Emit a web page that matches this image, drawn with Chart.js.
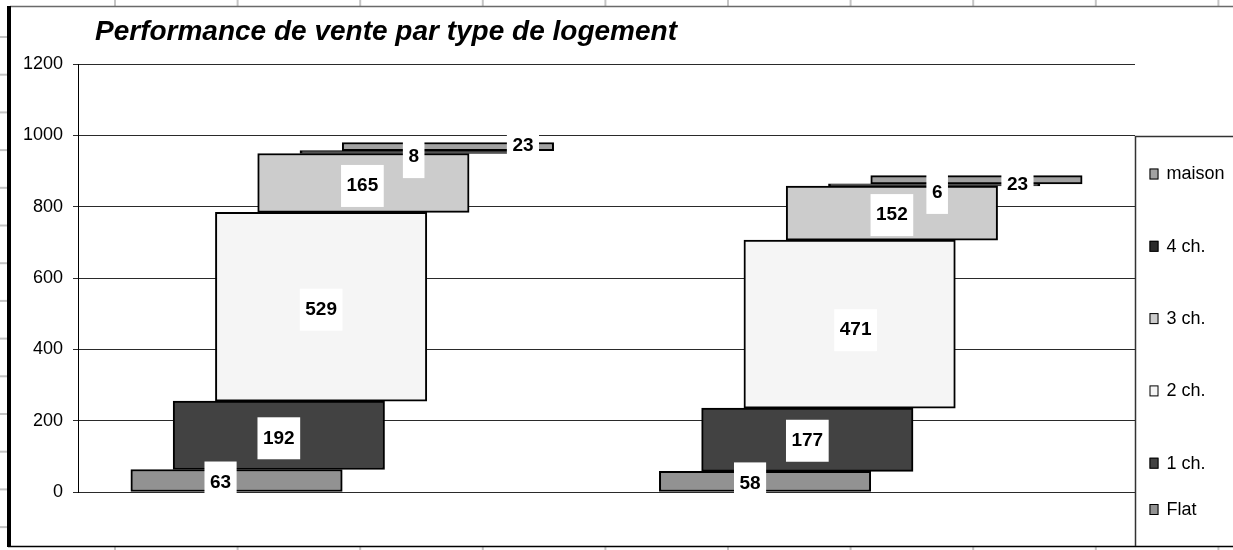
<!DOCTYPE html>
<html>
<head>
<meta charset="utf-8">
<script src="https://cdn.jsdelivr.net/npm/chart.js@4.4.0/dist/chart.umd.min.js"></script>
<style>
  html, body { margin: 0; padding: 0; background: #fff; }
  #wrap { width: 1233px; height: 550px; position: relative; }
</style>
</head>
<body>
<div id="wrap"><canvas id="venteChart"></canvas></div>
<script>
// Data (two groups, no category labels shown on the axis)
var groups = ['1', '2'];
var types = ['Flat', '1 ch.', '2 ch.', '3 ch.', '4 ch.', 'maison'];
var flat = [63, 58];
var ch1 = [192, 177];
var ch2 = [529, 471];
var ch3 = [165, 152];
var ch4 = [8, 6];
var maison = [23, 23];
var yTicks = [0, 200, 400, 600, 800, 1000, 1200];

// Styles
var fills = ['#929292', '#424242', '#f5f5f5', '#cccccc', '#2b2b2b', '#a2a2a2'];
var fontFam = "'Liberation Sans', Arial, sans-serif";
var barSpan = 0.4;     // width of each step bar, in category units
var barStep = 0.08;    // horizontal shift between successive types
// label nudges [dx, dy] per type, per group (Excel labels were moved by hand)
var labelNudge = [
  [[-16, 2], [-15, 2]],
  [[0, 3], [0, 1]],
  [[0, 3], [6, 6]],
  [[-1, 3], [0, 2]],
  [[8, 5], [3, 8]],
  [[75, -1], [41, 5]]
];

var series = [flat, ch1, ch2, ch3, ch4, maison];

var datasets = series.map(function(vals, si) {
  return {
    label: types[si],
    stack: 'all',
    data: vals.map(function(v, gi) {
      var base = 0;
      for (var k = 0; k < si; k++) base += series[k][gi];
      return { x: gi + 0.5 + (si - 2.5) * barStep, y: [base, base + v], v: v };
    }),
    backgroundColor: fills[si],
    borderColor: '#000',
    borderWidth: 2,
    borderSkipped: false,
    barThickness: function(ctx) {
      var xs = ctx.chart.scales.x;
      return xs ? Math.abs(xs.getPixelForValue(barSpan) - xs.getPixelForValue(0)) : 200;
    }
  };
});

// sheet background + frame + legend + value labels
var sheetPlugin = {
  id: 'sheet',
  beforeDraw: function(chart) {
    var c = chart.ctx;
    c.save();
    c.fillStyle = '#fff';
    c.fillRect(0, 0, chart.width, chart.height);
    c.strokeStyle = '#c4c4c4';
    c.lineWidth = 2;
    for (var i = 0; i < 10; i++) {
      var x = 115 + i * 122.6;
      c.beginPath(); c.moveTo(x, 0); c.lineTo(x, 6); c.stroke();
      c.beginPath(); c.moveTo(x, 547); c.lineTo(x, 550); c.stroke();
    }
    for (var j = 0; j < 15; j++) {
      var y = 37 + j * 37.7;
      c.beginPath(); c.moveTo(0, y); c.lineTo(7, y); c.stroke();
    }
    c.restore();
  },
  afterLayout: function(chart) {
    if (chart.titleBlock) {
      chart.titleBlock.left += 83;
      chart.titleBlock.right += 83;
    }
  },
  afterDraw: function(chart) {
    var c = chart.ctx;
    var area = chart.chartArea;
    c.save();
    // frame
    c.strokeStyle = '#6a6a6a';
    c.lineWidth = 1.5;
    c.beginPath(); c.moveTo(10, 6.5); c.lineTo(chart.width, 6.5); c.stroke();
    c.strokeStyle = '#000';
    c.beginPath(); c.moveTo(8, 546.5); c.lineTo(chart.width, 546.5); c.stroke();
    c.fillStyle = '#000';
    c.fillRect(7, 6, 4, 541);

    // legend box
    var lx = area.right + 0.5, top = 136.5, bottom = 546;
    c.strokeStyle = '#333';
    c.lineWidth = 1.5;
    c.beginPath();
    c.moveTo(chart.width, top); c.lineTo(lx, top); c.lineTo(lx, bottom);
    c.stroke();

    c.font = '18px ' + fontFam;
    c.textBaseline = 'middle';
    c.textAlign = 'left';
    var n = types.length;
    for (var i = 0; i < n; i++) {
      var si = n - 1 - i;
      var y = i < n - 1 ? top + 37 + i * 72.3 : bottom - 37;
      c.fillStyle = fills[si];
      c.fillRect(lx + 14, y - 5, 9, 11);
      c.strokeStyle = '#000';
      c.lineWidth = 1;
      c.strokeRect(lx + 14.5, y - 4.5, 8, 10);
      c.fillStyle = '#000';
      c.fillText(types[si], lx + 31, y + 1);
    }
    c.restore();
  },
  afterDatasetsDraw: function(chart) {
    var c = chart.ctx;
    c.save();
    c.font = 'bold 19px ' + fontFam;
    c.textAlign = 'center';
    c.textBaseline = 'middle';
    chart.data.datasets.forEach(function(ds, si) {
      var meta = chart.getDatasetMeta(si);
      meta.data.forEach(function(bar, gi) {
        var txt = String(ds.data[gi].v);
        var cx = bar.x + labelNudge[si][gi][0];
        var cy = (bar.y + bar.base) / 2 + labelNudge[si][gi][1];
        var w = c.measureText(txt).width + 11;
        c.fillStyle = '#fff';
        c.fillRect(cx - w / 2, cy - 21, w, 42);
        c.fillStyle = '#000';
        c.fillText(txt, cx, cy);
      });
    });
    c.restore();
  }
};

var venteChart = new Chart(document.getElementById('venteChart').getContext('2d'), {
  type: 'bar',
  data: { datasets: datasets },
  plugins: [sheetPlugin],
  options: {
    responsive: true,
    maintainAspectRatio: false,
    animation: false,
    layout: { padding: { left: 12, right: 98, top: 8, bottom: 58 } },
    plugins: {
      legend: { display: false },
      tooltip: { enabled: false },
      title: {
        display: true,
        text: 'Performance de vente par type de logement',
        align: 'start',
        color: '#000',
        font: { family: fontFam, size: 28, weight: 'bold', style: 'italic' },
        padding: { top: 7, bottom: 15.4 }
      }
    },
    scales: {
      x: {
        type: 'linear',
        min: 0,
        max: groups.length,
        offset: false,
        display: false,
        grid: { offset: false }
      },
      y: {
        min: 0,
        max: 1200,
        stacked: false,
        afterBuildTicks: function(s) {
          s.ticks = yTicks.map(function(v) { return { value: v }; });
        },
        afterFit: function(s) { s.width = 66; },
        border: { display: true, color: '#000', width: 1 },
        grid: { color: '#2a2a2a', lineWidth: 1, tickLength: 5, drawTicks: true },
        ticks: {
          color: '#000',
          padding: 10,
          font: { family: fontFam, size: 18 },
          callback: function(v) { return String(v); }
        }
      }
    }
  }
});
</script>
</body>
</html>
